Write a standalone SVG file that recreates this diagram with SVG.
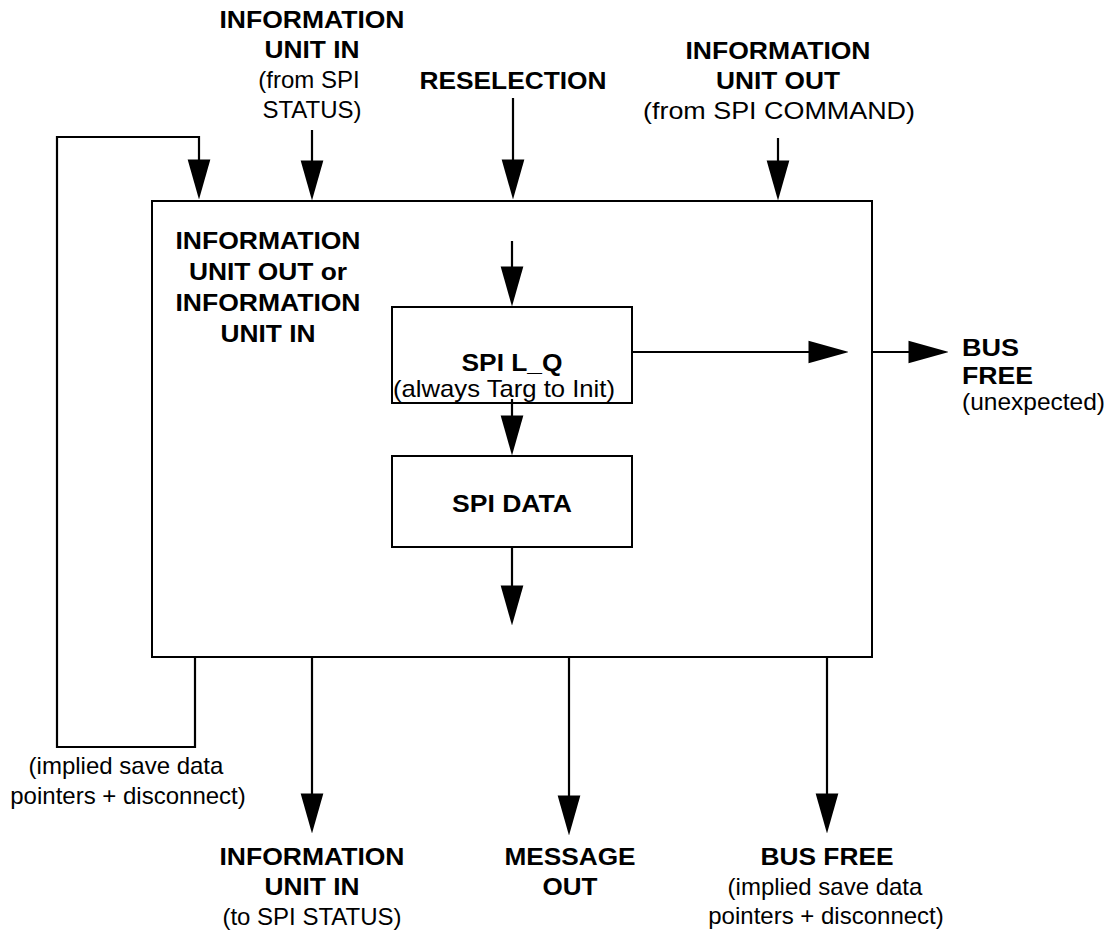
<svg xmlns="http://www.w3.org/2000/svg" width="1112" height="933" viewBox="0 0 1112 933">
  <style>
    .box { fill: #fff; stroke: #000; stroke-width: 2; }
    .wire { fill: none; stroke: #000; stroke-width: 2.2; }
    .b { font-family: "Liberation Sans", Arial, sans-serif; font-weight: bold; font-size: 24px; fill: #000; text-anchor: middle; }
    .r { font-family: "Liberation Sans", Arial, sans-serif; font-size: 24px; fill: #000; text-anchor: middle; }
    .l { text-anchor: start; }
  </style>
  <defs>
    <marker id="head" markerUnits="userSpaceOnUse" markerWidth="40" markerHeight="24" viewBox="0 0 37 21" refX="31" refY="10.5" orient="auto">
      <path d="M0,0 L37,10.5 L0,21 Z" fill="#000"/>
    </marker>
  </defs>
  <rect width="1112" height="933" fill="#fff"/>

  <!-- outer state -->
  <g id="state-outer">
    <rect class="box" x="152" y="201" width="720" height="456"/>
    <text class="b" x="268" y="249" textLength="185" lengthAdjust="spacingAndGlyphs">INFORMATION</text>
    <text class="b" x="268" y="280" textLength="158" lengthAdjust="spacingAndGlyphs">UNIT OUT or</text>
    <text class="b" x="268" y="311" textLength="185" lengthAdjust="spacingAndGlyphs">INFORMATION</text>
    <text class="b" x="268" y="342" textLength="95" lengthAdjust="spacingAndGlyphs">UNIT IN</text>
  </g>

  <g id="spi-lq">
    <rect class="box" x="392" y="307" width="240" height="96"/>
    <text class="b" x="512" y="371" textLength="101" lengthAdjust="spacingAndGlyphs">SPI L_Q</text>
    <text class="r" x="504" y="397" textLength="222" lengthAdjust="spacingAndGlyphs">(always Targ to Init)</text>
  </g>

  <g id="spi-data">
    <rect class="box" x="392" y="456" width="240" height="91"/>
    <text class="b" x="512" y="512" textLength="120" lengthAdjust="spacingAndGlyphs">SPI DATA</text>
  </g>

  <!-- entry labels -->
  <g id="in-iu-in">
    <text class="b" x="312" y="28" textLength="185" lengthAdjust="spacingAndGlyphs">INFORMATION</text>
    <text class="b" x="312" y="58" textLength="95" lengthAdjust="spacingAndGlyphs">UNIT IN</text>
    <text class="r" x="309" y="88">(from SPI</text>
    <text class="r" x="312" y="118">STATUS)</text>
  </g>
  <g id="in-reselection">
    <text class="b" x="513" y="89" textLength="187" lengthAdjust="spacingAndGlyphs">RESELECTION</text>
  </g>
  <g id="in-iu-out">
    <text class="b" x="778" y="59" textLength="185" lengthAdjust="spacingAndGlyphs">INFORMATION</text>
    <text class="b" x="778" y="89" textLength="124" lengthAdjust="spacingAndGlyphs">UNIT OUT</text>
    <text class="r" x="779" y="119" textLength="272" lengthAdjust="spacingAndGlyphs">(from SPI COMMAND)</text>
  </g>

  <!-- exit labels -->
  <g id="out-bus-free-unexpected">
    <text class="b l" x="962" y="356" textLength="57" lengthAdjust="spacingAndGlyphs">BUS</text>
    <text class="b l" x="962" y="384" textLength="71" lengthAdjust="spacingAndGlyphs">FREE</text>
    <text class="r l" x="962" y="410" textLength="143" lengthAdjust="spacingAndGlyphs">(unexpected)</text>
  </g>
  <g id="loop-label">
    <text class="r" x="126" y="774">(implied save data</text>
    <text class="r" x="128" y="804">pointers + disconnect)</text>
  </g>
  <g id="out-iu-in">
    <text class="b" x="312" y="865" textLength="185" lengthAdjust="spacingAndGlyphs">INFORMATION</text>
    <text class="b" x="312" y="895" textLength="95" lengthAdjust="spacingAndGlyphs">UNIT IN</text>
    <text class="r" x="312" y="925">(to SPI STATUS)</text>
  </g>
  <g id="out-message-out">
    <text class="b" x="570" y="865" textLength="131" lengthAdjust="spacingAndGlyphs">MESSAGE</text>
    <text class="b" x="570" y="895" textLength="55" lengthAdjust="spacingAndGlyphs">OUT</text>
  </g>
  <g id="out-bus-free">
    <text class="b" x="827" y="865" textLength="133" lengthAdjust="spacingAndGlyphs">BUS FREE</text>
    <text class="r" x="825" y="895">(implied save data</text>
    <text class="r" x="826" y="924">pointers + disconnect)</text>
  </g>

  <!-- connectors -->
  <g id="connectors">
    <path class="wire" d="M195,657 V747 H57 V137 H199 V193" marker-end="url(#head)"/>
    <path class="wire" d="M312,130 V194" marker-end="url(#head)"/>
    <path class="wire" d="M513,98 V193" marker-end="url(#head)"/>
    <path class="wire" d="M778,138 V194" marker-end="url(#head)"/>
    <path class="wire" d="M512,241 V300" marker-end="url(#head)"/>
    <path class="wire" d="M512,399 V449" marker-end="url(#head)"/>
    <path class="wire" d="M512,546 V619" marker-end="url(#head)"/>
    <path class="wire" d="M631,352 H842" marker-end="url(#head)"/>
    <path class="wire" d="M873,352 H942" marker-end="url(#head)"/>
    <path class="wire" d="M312,657 V827" marker-end="url(#head)"/>
    <path class="wire" d="M569,657 V829" marker-end="url(#head)"/>
    <path class="wire" d="M827,657 V827" marker-end="url(#head)"/>
  </g>
</svg>
